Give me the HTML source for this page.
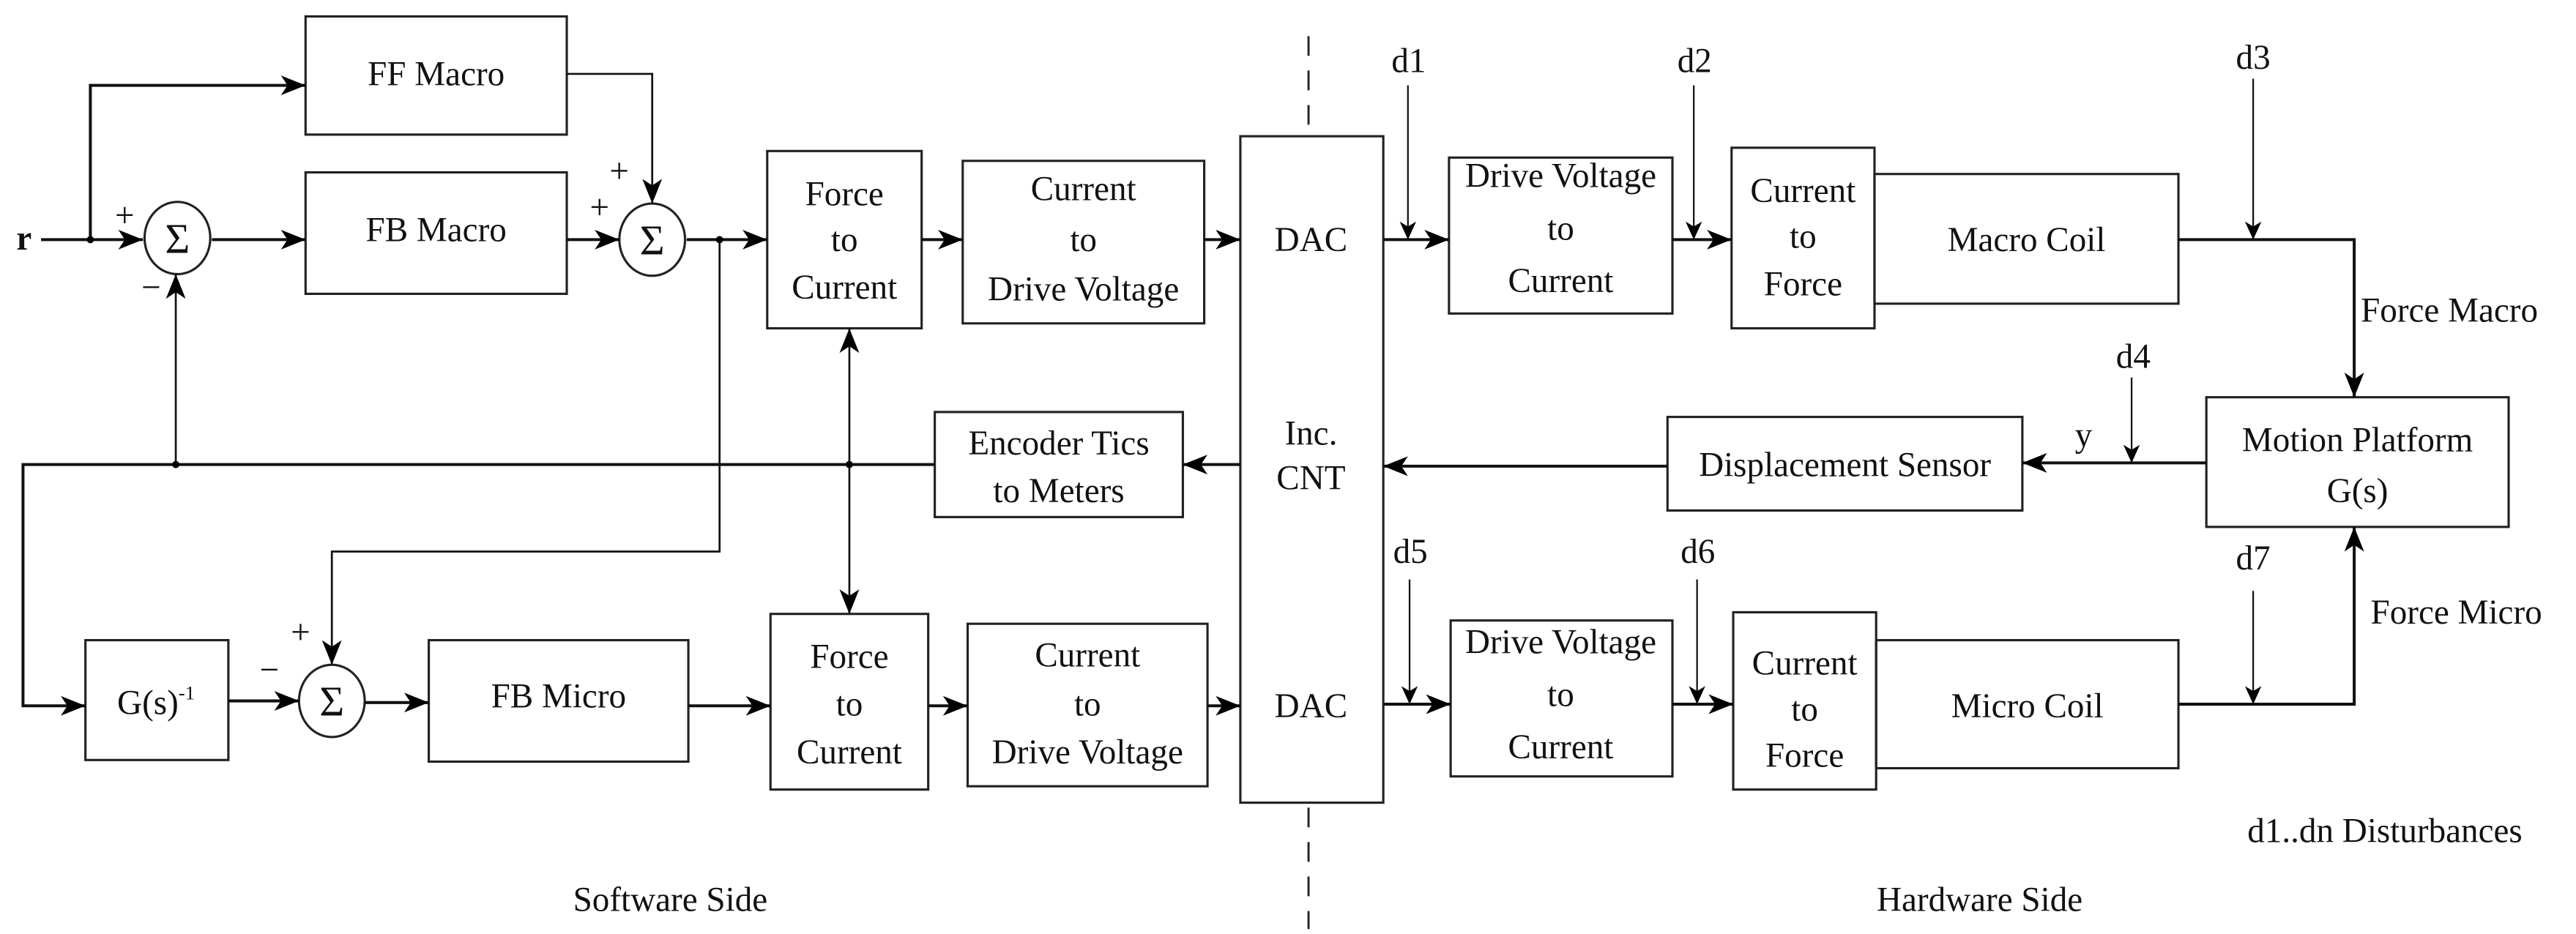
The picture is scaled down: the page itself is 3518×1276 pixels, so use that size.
<!DOCTYPE html>
<html><head><meta charset="utf-8"><style>
html,body{margin:0;padding:0;background:#fff;}
svg{display:block;}
text{font-family:"Liberation Serif",serif;fill:#111;}
</style></head><body>
<svg width="3518" height="1276" viewBox="0 0 1568 569" preserveAspectRatio="none" xmlns="http://www.w3.org/2000/svg">
<defs>
<marker id="a" markerUnits="userSpaceOnUse" markerWidth="16" markerHeight="12" refX="15" refY="6" orient="auto">
<path d="M0,0 L15,6 L0,12 L4,6 z" fill="#000"/>
</marker>
<marker id="t" markerUnits="userSpaceOnUse" markerWidth="12" markerHeight="10" refX="11" refY="5" orient="auto">
<path d="M0,0 L11,5 L0,10 L3,5 z" fill="#000"/>
</marker>
</defs>
<g fill="none" stroke="#222" stroke-width="1.4">
<rect x="186" y="10" width="159" height="72"/>
<rect x="186" y="105" width="159" height="74"/>
<rect x="467" y="92" width="94" height="108"/>
<rect x="586" y="98" width="147" height="99"/>
<rect x="755" y="83" width="87" height="406"/>
<rect x="882" y="96" width="136" height="95"/>
<rect x="1054" y="90" width="87" height="110"/>
<rect x="1141" y="106" width="185" height="79"/>
<rect x="1343" y="242" width="184" height="79"/>
<rect x="1015" y="254" width="216" height="57"/>
<rect x="569" y="251" width="151" height="64"/>
<rect x="52" y="390" width="87" height="73"/>
<rect x="261" y="390" width="158" height="74"/>
<rect x="469" y="374" width="96" height="107"/>
<rect x="589" y="380" width="146" height="99"/>
<rect x="883" y="378" width="135" height="95"/>
<rect x="1055" y="373" width="87" height="108"/>
<rect x="1142" y="390" width="184" height="78"/>
<ellipse cx="108" cy="145" rx="20" ry="22"/>
<ellipse cx="397" cy="146" rx="20" ry="22"/>
<ellipse cx="202" cy="427" rx="20" ry="22"/>
</g>
<line x1="796.5" y1="22" x2="796.5" y2="83" stroke="#222" stroke-width="1.3" stroke-dasharray="12,9"/>
<line x1="796.5" y1="492" x2="796.5" y2="566" stroke="#222" stroke-width="1.3" stroke-dasharray="12,9"/>
<g fill="none" stroke="#111" stroke-width="1.8">
<line x1="25" y1="146" x2="87" y2="146" marker-end="url(#a)"/>
<polyline points="55,146 55,52 186,52" marker-end="url(#a)"/>
<line x1="129" y1="146" x2="186" y2="146" marker-end="url(#a)"/>
<line x1="345" y1="146" x2="377" y2="146" marker-end="url(#a)"/>
<polyline points="345,45 397,45 397,124" stroke-width="1.2" marker-end="url(#a)"/>
<line x1="418" y1="146" x2="467" y2="146" marker-end="url(#a)"/>
<line x1="561" y1="146" x2="586" y2="146" marker-end="url(#a)"/>
<line x1="733" y1="146" x2="755" y2="146" marker-end="url(#a)"/>
<line x1="842" y1="146" x2="882" y2="146" marker-end="url(#a)"/>
<line x1="1018" y1="146" x2="1054" y2="146" marker-end="url(#a)"/>
<polyline points="1326,146 1433,146 1433,242" marker-end="url(#a)"/>
<line x1="1343" y1="282" x2="1231" y2="282" marker-end="url(#a)"/>
<line x1="1015" y1="284" x2="842" y2="284" marker-end="url(#a)"/>
<line x1="755" y1="283" x2="720" y2="283" marker-end="url(#a)"/>
<polyline points="569,283 14,283 14,430 52,430" marker-end="url(#a)"/>
<line x1="107" y1="283" x2="107" y2="167" stroke-width="1.2" marker-end="url(#a)"/>
<line x1="517" y1="283" x2="517" y2="200" stroke-width="1.2" marker-end="url(#a)"/>
<line x1="517" y1="283" x2="517" y2="374" stroke-width="1.2" marker-end="url(#a)"/>
<polyline points="438,146 438,336 202,336 202,405" stroke-width="1.2" marker-end="url(#a)"/>
<line x1="139" y1="427" x2="182" y2="427" marker-end="url(#a)"/>
<line x1="222" y1="428" x2="261" y2="428" marker-end="url(#a)"/>
<line x1="419" y1="430" x2="469" y2="430" marker-end="url(#a)"/>
<line x1="565" y1="430" x2="589" y2="430" marker-end="url(#a)"/>
<line x1="735" y1="430" x2="755" y2="430" marker-end="url(#a)"/>
<line x1="842" y1="429" x2="883" y2="429" marker-end="url(#a)"/>
<line x1="1018" y1="429" x2="1055" y2="429" marker-end="url(#a)"/>
<polyline points="1326,429 1433,429 1433,321" marker-end="url(#a)"/>
<g stroke-width="1">
<line x1="857" y1="52" x2="857" y2="146" marker-end="url(#t)"/>
<line x1="1031" y1="52" x2="1031" y2="146" marker-end="url(#t)"/>
<line x1="1371.5" y1="48" x2="1371.5" y2="146" marker-end="url(#t)"/>
<line x1="1297.5" y1="230" x2="1297.5" y2="282" marker-end="url(#t)"/>
<line x1="858" y1="353" x2="858" y2="429" marker-end="url(#t)"/>
<line x1="1033" y1="353" x2="1033" y2="429" marker-end="url(#t)"/>
<line x1="1371.5" y1="360" x2="1371.5" y2="429" marker-end="url(#t)"/>
</g>
</g>
<g fill="#000">
<circle cx="55" cy="146" r="2.2"/><circle cx="438" cy="146" r="2.2"/>
<circle cx="107" cy="283" r="2.2"/><circle cx="517" cy="283" r="2.2"/>
</g>
<g font-size="21" text-anchor="middle">
<text x="265.5" y="52">FF Macro</text>
<text x="265.5" y="147">FB Macro</text>
<text x="514" y="125">Force</text><text x="514" y="153">to</text><text x="514" y="182">Current</text>
<text x="659.5" y="122">Current</text><text x="659.5" y="153">to</text><text x="659.5" y="183">Drive Voltage</text>
<text x="798" y="153">DAC</text>
<text x="798" y="271">Inc.</text><text x="798" y="298">CNT</text>
<text x="798" y="437">DAC</text>
<text x="950" y="114">Drive Voltage</text><text x="950" y="146">to</text><text x="950" y="178">Current</text>
<text x="1097.5" y="123">Current</text><text x="1097.5" y="151">to</text><text x="1097.5" y="180">Force</text>
<text x="1233.5" y="153">Macro Coil</text>
<text x="1435" y="275">Motion Platform</text><text x="1435" y="306">G(s)</text>
<text x="1123" y="290">Displacement Sensor</text>
<text x="644.5" y="277">Encoder Tics</text><text x="644.5" y="306">to Meters</text>
<text x="95" y="435">G(s)<tspan font-size="12" dy="-9">-1</tspan></text>
<text x="340" y="431">FB Micro</text>
<text x="517" y="407">Force</text><text x="517" y="436">to</text><text x="517" y="465">Current</text>
<text x="662" y="406">Current</text><text x="662" y="436">to</text><text x="662" y="465">Drive Voltage</text>
<text x="950" y="398">Drive Voltage</text><text x="950" y="430">to</text><text x="950" y="462">Current</text>
<text x="1098.5" y="411">Current</text><text x="1098.5" y="439">to</text><text x="1098.5" y="467">Force</text>
<text x="1234" y="437">Micro Coil</text>
<text x="408" y="555">Software Side</text>
<text x="1205" y="555">Hardware Side</text>
<text x="108" y="154" font-size="26">Σ</text>
<text x="397" y="155" font-size="26">Σ</text>
<text x="202" y="436" font-size="26">Σ</text>
</g>
<g font-size="21">
<text x="10" y="152" font-weight="bold">r</text>
<text x="70" y="138">+</text><text x="86" y="182">−</text>
<text x="371" y="111">+</text><text x="359" y="133">+</text>
<text x="177" y="392">+</text><text x="158" y="415">−</text>
<text x="847" y="44">d1</text><text x="1021" y="44">d2</text><text x="1361" y="42">d3</text>
<text x="1288" y="224">d4</text><text x="1263" y="272">y</text>
<text x="848" y="343">d5</text><text x="1023" y="343">d6</text><text x="1361" y="347">d7</text>
<text x="1437" y="196">Force Macro</text>
<text x="1443" y="380">Force Micro</text>
<text x="1368" y="513">d1..dn Disturbances</text>
</g>
</svg>
</body></html>
